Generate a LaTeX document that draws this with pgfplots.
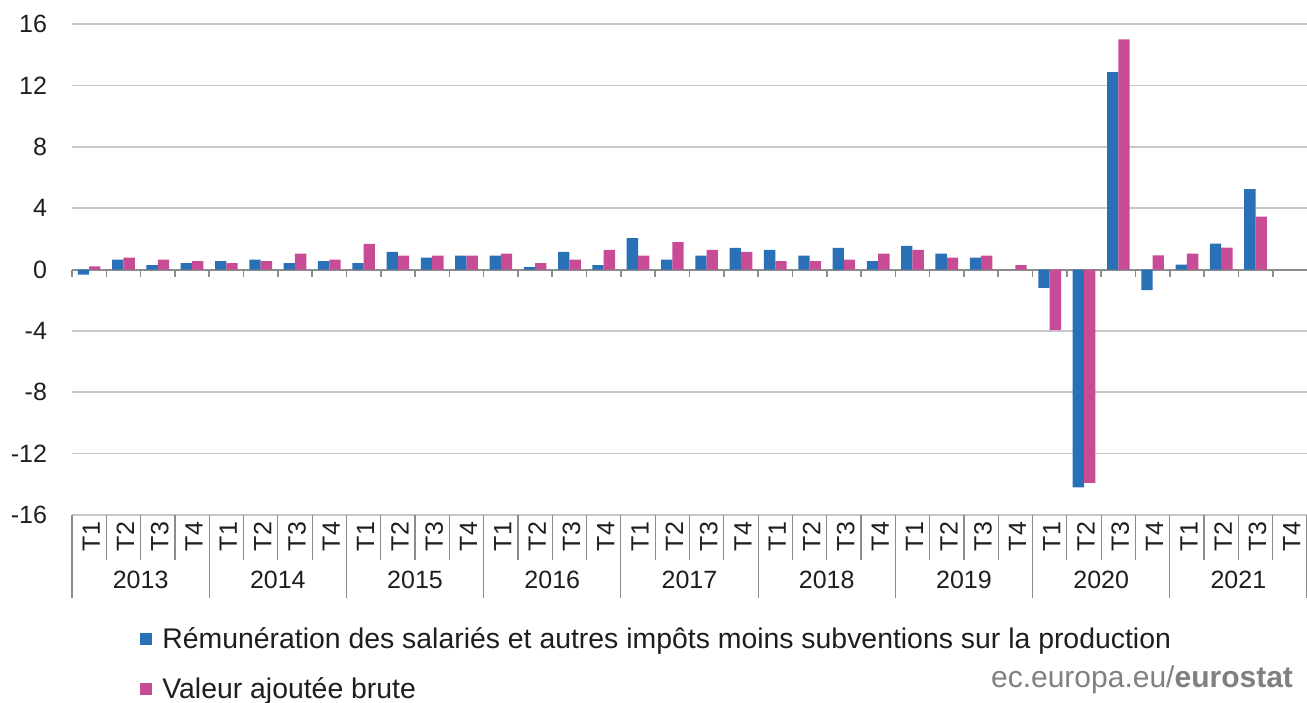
\documentclass[border=0pt]{standalone}
\usepackage{pgfplots}
\pgfplotsset{compat=1.18}
\usepackage{fontspec}
\setmainfont{Liberation Sans}
\definecolor{esblue}{RGB}{41,112,183}
\definecolor{espink}{RGB}{200,75,150}
\definecolor{gridgray}{RGB}{200,200,200}
\definecolor{axgray}{RGB}{140,140,140}
\definecolor{txt}{RGB}{30,30,30}

% quarterly growth, 2013 T1 .. 2021 T3
\pgfplotstableread{
x  remu   vab
0  -0.33  0.20
1   0.65  0.78
2   0.28  0.65
3   0.41  0.54
4   0.54  0.41
5   0.65  0.54
6   0.41  1.04
7   0.54  0.65
8   0.41  1.67
9   1.15  0.91
10  0.78  0.91
11  0.91  0.91
12  0.91  1.04
13  0.15  0.41
14  1.15  0.65
15  0.28  1.28
16  2.04  0.91
17  0.65  1.78
18  0.91  1.28
19  1.41  1.15
20  1.28  0.54
21  0.91  0.54
22  1.41  0.65
23  0.54  1.04
24  1.54  1.28
25  1.04  0.78
26  0.78  0.91
27  0.00  0.28
28 -1.20 -3.95
29 -14.2 -13.9
30  12.87 15.0
31 -1.34  0.92
32  0.31  1.03
33  1.69  1.43
34  5.24  3.44
}\data

\begin{document}
\begin{tikzpicture}
\begin{axis}[
  scale only axis,
  width=617.5pt, height=245.5pt,
  xmin=-0.5, xmax=35.5,
  ymin=-16, ymax=16,
  ytick={-16,-12,...,16},
  xtick={0,...,35},
  xticklabels={T1,T2,T3,T4,T1,T2,T3,T4,T1,T2,T3,T4,T1,T2,T3,T4,T1,T2,T3,T4,T1,T2,T3,T4,T1,T2,T3,T4,T1,T2,T3,T4,T1,T2,T3,T4},
  xticklabel style={rotate=90, anchor=east, font=\fontsize{12.5}{15}\selectfont, text=txt, yshift=-1pt},
  yticklabel style={font=\fontsize{12.5}{15}\selectfont, text=txt, xshift=-9pt},
  /pgf/number format/assume math mode=true,
  axis line style={draw=none},
  major tick length=0pt,
  ymajorgrids,
  grid style={gridgray, line width=0.8pt},
  extra y ticks={0},
  extra y tick labels={},
  extra y tick style={grid style={axgray, line width=1pt}},
  ybar=0pt,
  bar width=0.33,
  clip=false,
  legend style={at={(0.055,0)}, anchor=north west, yshift=-54pt, draw=none,
    font=\fontsize{14.2}{17}\selectfont, text=txt, inner sep=0pt,
    row sep=9pt, cells={anchor=west}},
  legend image code/.code={\fill[#1] (0pt,-3pt) rectangle (6pt,3pt); \path (9pt,0pt);},
]
\addplot[fill=esblue, draw=none] table[x=x, y=remu] {\data};
\addplot[fill=espink, draw=none] table[x=x, y=vab] {\data};
\legend{Rémunération des salariés et autres impôts moins subventions sur la production, Valeur ajoutée brute}

% 1 y unit = 245.5pt/32 = 7.67pt
\pgfplotsinvokeforeach{0,...,35}{
  \draw[axgray, line width=0.8pt] (axis cs:{#1-0.5},0) -- (axis cs:{#1-0.5},-0.46);
  \draw[axgray, line width=0.6pt] (axis cs:{#1-0.5},-16) -- (axis cs:{#1-0.5},-18.93);
}
\pgfplotsinvokeforeach{0,...,9}{
  \draw[axgray, line width=0.6pt] (axis cs:{4*#1-0.5},-16) -- (axis cs:{4*#1-0.5},-21.41);
}
\pgfplotsinvokeforeach{2013,...,2021}{
  \node[font=\fontsize{12.5}{15}\selectfont, text=txt] at (axis cs:{4*(#1-2013)+1.5},-16) [yshift=-32.5pt] {#1};
}
\end{axis}
\node[anchor=south east, text=gray, font=\fontsize{15}{18}\selectfont] at (614pt,-93pt) {ec.europa.eu/\textbf{eurostat}};
\pgfresetboundingbox
\path[use as bounding box] (-36pt,-93.5pt) rectangle (617.5pt,257.5pt);
\end{tikzpicture}
\end{document}
